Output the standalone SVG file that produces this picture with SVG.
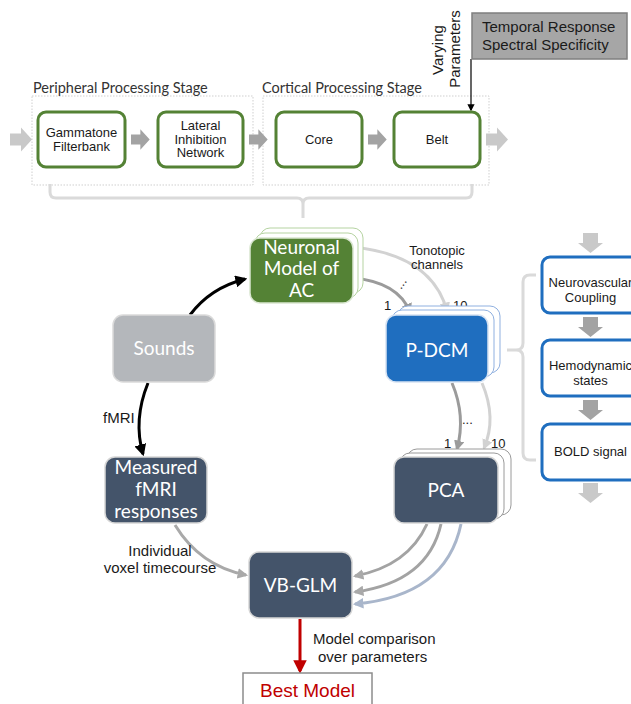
<svg xmlns="http://www.w3.org/2000/svg" width="631" height="704" viewBox="0 0 631 704">
<defs>
<style>
.ar{font-family:"Liberation Sans",Arial,sans-serif;fill:#1a1a1a}
.cal{font-family:Lato,"Open Sans",sans-serif}
.wt{font-family:Lato,"Open Sans",sans-serif;fill:#ffffff;font-size:19px;text-anchor:middle}
.gbox{fill:#ffffff;stroke:#548235;stroke-width:3}
.bbox{fill:#ffffff;stroke:#1f6ebf;stroke-width:3}
.stage{fill:none;stroke:#cfcfcf;stroke-width:1;stroke-dasharray:1.5 1.5}
.slate{fill:#44546a;stroke:#d6d6d6;stroke-width:1.5}
.con{fill:none;stroke-width:3}
</style>
<marker id="mBlack" viewBox="0 0 10 10" refX="8" refY="5" markerWidth="4" markerHeight="4" orient="auto" markerUnits="strokeWidth"><path d="M0,0 L10,5 L0,10 z" fill="#000"/></marker>
<marker id="mDark" viewBox="0 0 10 10" refX="8" refY="5" markerWidth="3.5" markerHeight="3.5" orient="auto" markerUnits="strokeWidth"><path d="M0,0 L10,5 L0,10 z" fill="#9b9b9b"/></marker>
<marker id="mLight" viewBox="0 0 10 10" refX="8" refY="5" markerWidth="3.5" markerHeight="3.5" orient="auto" markerUnits="strokeWidth"><path d="M0,0 L10,5 L0,10 z" fill="#d2d2d2"/></marker>
<marker id="mMid" viewBox="0 0 10 10" refX="8" refY="5" markerWidth="3.5" markerHeight="3.5" orient="auto" markerUnits="strokeWidth"><path d="M0,0 L10,5 L0,10 z" fill="#a9a9a9"/></marker>
<marker id="mBlue" viewBox="0 0 10 10" refX="8" refY="5" markerWidth="3.5" markerHeight="3.5" orient="auto" markerUnits="strokeWidth"><path d="M0,0 L10,5 L0,10 z" fill="#a9b6cb"/></marker>
<marker id="mRed" viewBox="0 0 10 10" refX="8" refY="5" markerWidth="4.5" markerHeight="4.5" orient="auto" markerUnits="strokeWidth"><path d="M0,0 L10,5 L0,10 z" fill="#c00000"/></marker>
<marker id="mThin" viewBox="0 0 10 10" refX="8" refY="5" markerWidth="6" markerHeight="6" orient="auto" markerUnits="strokeWidth"><path d="M0,0 L10,5 L0,10 z" fill="#000"/></marker>
<path id="blockR" d="M0,-6 L11,-6 L11,-12 L22,0 L11,12 L11,6 L0,6 z"/>
<path id="blockD" d="M-7.5,0 L7.5,0 L7.5,10 L12.5,10 L0,20 L-12.5,10 L-7.5,10 z"/>
</defs>

<!-- stages -->
<g id="n-peripheral-stage">
<rect class="stage" x="32" y="96" width="221" height="89"/>
<text class="cal" x="33" y="93" font-size="14.5" fill="#333">Peripheral Processing Stage</text>
</g>
<g id="n-cortical-stage">
<rect class="stage" x="263" y="96" width="226" height="89"/>
<text class="cal" x="262" y="93" font-size="14.5" fill="#333">Cortical Processing Stage</text>
</g>

<g id="connectors">
<!-- top row block arrows -->
<use href="#blockR" x="10" y="139.5" fill="#c9c9c9"/>
<use href="#blockR" x="131" y="139.5" fill="#a3a3a3" transform="translate(131,139.5) scale(0.85) translate(-131,-139.5)"/>
<use href="#blockR" x="249" y="139.5" fill="#a3a3a3" transform="translate(249,139.5) scale(0.85) translate(-249,-139.5)"/>
<use href="#blockR" x="368" y="139.5" fill="#a3a3a3" transform="translate(368,139.5) scale(0.85) translate(-368,-139.5)"/>
<use href="#blockR" x="486" y="139.5" fill="#c9c9c9"/>
<!-- top bracket -->
<path d="M50 184 L50 192 Q50 198 56 198 L297 198 Q303 198 303 204 L303 218 M303 204 Q303 198 309 198 L466 198 Q472 198 472 192 L472 184" fill="none" stroke="#dadada" stroke-width="3"/>
<!-- varying parameters arrow -->
<line x1="471" y1="59" x2="471" y2="110" stroke="#000" stroke-width="1.2" marker-end="url(#mThin)"/>
<!-- right column arrows -->
<use href="#blockD" x="590.5" y="233" fill="#c9c9c9"/>
<use href="#blockD" x="590.5" y="317" fill="#a3a3a3"/>
<use href="#blockD" x="590.5" y="400" fill="#a3a3a3"/>
<use href="#blockD" x="590.5" y="483" fill="#c9c9c9"/>
<!-- right bracket -->
<path d="M536 275 L530 275 Q523 275 523 282 L523 343 Q523 350 516 350 L507 350 M516 350 Q523 350 523 357 L523 453 Q523 460 530 460 L536 460" fill="none" stroke="#dadada" stroke-width="3"/>
<!-- main flow -->
<path class="con" d="M190 315 Q210 288 245 279" stroke="#000" stroke-width="2.5" marker-end="url(#mBlack)"/>
<path class="con" d="M148 383 Q133 420 143 454" stroke="#000" stroke-width="2.5" marker-end="url(#mBlack)"/>
<path class="con" d="M353 247 Q432 255 447 311" stroke="#d2d2d2" marker-end="url(#mLight)"/>
<path class="con" d="M353 278 Q398 282 410 312" stroke="#9b9b9b" marker-end="url(#mDark)"/>
<path class="con" d="M482 383 Q497 418 484 448" stroke="#d2d2d2" marker-end="url(#mLight)"/>
<path class="con" d="M452 383 Q466 416 457 449" stroke="#9b9b9b" marker-end="url(#mDark)"/>
<path class="con" d="M175 525 Q200 566 246 575" stroke="#a9a9a9" marker-end="url(#mMid)"/>
<path class="con" d="M427 524 Q408 566 355 576" stroke="#a3a3a3" marker-end="url(#mMid)"/>
<path class="con" d="M441 524 Q428 582 355 592" stroke="#a3a3a3" marker-end="url(#mMid)"/>
<path class="con" d="M461 524 Q446 596 355 604" stroke="#a9b6cb" marker-end="url(#mBlue)"/>
<path class="con" d="M300 619 L300 671" stroke="#c00000" stroke-width="2.5" marker-end="url(#mRed)"/>
<!-- connector labels -->
<text class="ar" x="437" y="255" font-size="13" text-anchor="middle">Tonotopic</text>
<text class="ar" x="437" y="269" font-size="13" text-anchor="middle">channels</text>
<text class="ar" x="401" y="290" font-size="13" transform="rotate(-55 401 290)">...</text>
<text class="ar" x="384" y="310" font-size="13">1</text>
<text class="ar" x="453" y="310" font-size="13">10</text>
<text class="ar" x="462" y="424" font-size="13">...</text>
<text class="ar" x="444" y="448" font-size="13">1</text>
<text class="ar" x="491" y="448" font-size="13">10</text>
<text class="ar" x="103" y="423" font-size="15">fMRI</text>
<text class="ar" x="160" y="556" font-size="15" text-anchor="middle">Individual</text>
<text class="ar" x="160" y="573" font-size="15" text-anchor="middle">voxel timecourse</text>
<text class="ar" x="313" y="644" font-size="15">Model comparison</text>
<text class="ar" x="318" y="662" font-size="15">over parameters</text>
<text class="ar" x="443" y="50" font-size="15" text-anchor="middle" transform="rotate(-90 443 50)">Varying</text>
<text class="ar" x="460" y="49" font-size="15" text-anchor="middle" transform="rotate(-90 460 49)">Parameters</text>
</g>

<g id="n-gammatone">
<rect class="gbox" x="38" y="112" width="87" height="55" rx="8"/>
<text class="ar" x="81.5" y="137" font-size="13" text-anchor="middle">Gammatone</text>
<text class="ar" x="81.5" y="151" font-size="13" text-anchor="middle">Filterbank</text>
</g>
<g id="n-lateral">
<rect class="gbox" x="158" y="112" width="85" height="55" rx="8"/>
<text class="ar" x="200.5" y="130" font-size="13" text-anchor="middle">Lateral</text>
<text class="ar" x="200.5" y="143.5" font-size="13" text-anchor="middle">Inhibition</text>
<text class="ar" x="200.5" y="157" font-size="13" text-anchor="middle">Network</text>
</g>
<g id="n-core">
<rect class="gbox" x="276" y="112" width="86" height="55" rx="8"/>
<text class="ar" x="319" y="144" font-size="13" text-anchor="middle">Core</text>
</g>
<g id="n-belt">
<rect class="gbox" x="394" y="112" width="86" height="55" rx="8"/>
<text class="ar" x="437" y="144" font-size="13" text-anchor="middle">Belt</text>
</g>
<g id="n-temporal">
<rect x="472" y="13" width="155" height="46" fill="#a6a6a6" stroke="#7f7f7f" stroke-width="1.5"/>
<text class="ar" x="482" y="32" font-size="15">Temporal Response</text>
<text class="ar" x="482" y="50" font-size="15">Spectral Specificity</text>
</g>

<g id="n-neuronal">
<rect x="260" y="228" width="103" height="65" rx="10" fill="#fff" stroke="#b5d3a1" stroke-width="1"/>
<rect x="255" y="233" width="103" height="65" rx="10" fill="#fff" stroke="#b5d3a1" stroke-width="1"/>
<rect x="250" y="238" width="103" height="65" rx="10" fill="#548235" stroke="#d9e6d0" stroke-width="1.5"/>
<text class="wt" x="301.5" y="254">Neuronal</text>
<text class="wt" x="301.5" y="275">Model of</text>
<text class="wt" x="301.5" y="297">AC</text>
</g>
<g id="n-pdcm">
<rect x="398" y="306" width="102" height="67" rx="10" fill="#fff" stroke="#8fb0e0" stroke-width="1"/>
<rect x="392" y="310" width="102" height="67" rx="10" fill="#fff" stroke="#8fb0e0" stroke-width="1"/>
<rect x="386" y="315" width="102" height="67" rx="10" fill="#1f6ebf" stroke="#d6e2f2" stroke-width="1.5"/>
<text class="wt" x="437" y="357" font-size="21">P-DCM</text>
</g>
<g id="n-pca">
<rect x="407" y="449" width="104" height="66" rx="10" fill="#fff" stroke="#9a9a9a" stroke-width="1"/>
<rect x="400" y="453" width="104" height="66" rx="10" fill="#fff" stroke="#9a9a9a" stroke-width="1"/>
<rect class="slate" x="394" y="457" width="104" height="66" rx="10"/>
<text class="wt" x="446" y="497" font-size="21">PCA</text>
</g>
<g id="n-sounds">
<rect x="113" y="315" width="102" height="67" rx="10" fill="#b4b7bb" stroke="#dadada" stroke-width="1.5"/>
<text class="wt" x="164" y="355">Sounds</text>
</g>
<g id="n-measured">
<rect class="slate" x="105" y="457" width="102" height="66" rx="10"/>
<text class="wt" x="156" y="474">Measured</text>
<text class="wt" x="156" y="496">fMRI</text>
<text class="wt" x="156" y="518">responses</text>
</g>
<g id="n-vbglm">
<rect class="slate" x="249" y="552" width="103" height="66" rx="10"/>
<text class="wt" x="300.5" y="592" font-size="20">VB-GLM</text>
</g>
<g id="n-best">
<rect x="243" y="673" width="129" height="40" fill="#fff" stroke="#8c8c8c" stroke-width="1.5"/>
<text class="ar" x="307.5" y="697" font-size="19" text-anchor="middle" fill="#c00000" style="fill:#c00000">Best Model</text>
</g>
<g id="n-neurovascular">
<rect class="bbox" x="542" y="257" width="96" height="56" rx="8"/>
<text class="ar" x="590.5" y="287" font-size="13" text-anchor="middle">Neurovascular</text>
<text class="ar" x="590.5" y="302" font-size="13" text-anchor="middle">Coupling</text>
</g>
<g id="n-hemo">
<rect class="bbox" x="542" y="340" width="96" height="56" rx="8"/>
<text class="ar" x="590.5" y="370" font-size="13" text-anchor="middle">Hemodynamic</text>
<text class="ar" x="590.5" y="385" font-size="13" text-anchor="middle">states</text>
</g>
<g id="n-bold">
<rect class="bbox" x="542" y="424" width="96" height="56" rx="8"/>
<text class="ar" x="590.5" y="456" font-size="13" text-anchor="middle">BOLD signal</text>
</g>
</svg>
